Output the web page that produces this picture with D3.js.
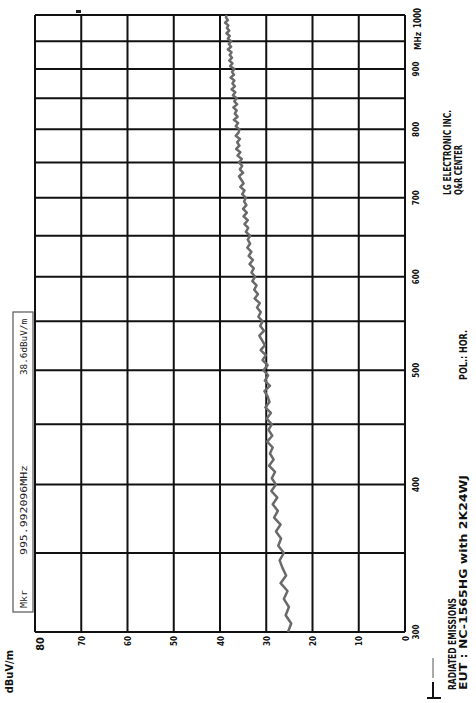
<!DOCTYPE html>
<html><head><meta charset="utf-8">
<script src="https://cdn.jsdelivr.net/npm/d3@7/dist/d3.min.js"></script>
<style>body{margin:0;background:#fff}svg{display:block}</style>
</head><body><svg id="c" width="476" height="703"></svg>
<script>
// ---- data ----
const freqGrid = [300,350,400,450,500,550,600,650,700,750,800,850,900,950,1000];
const freqLabels = [300,400,500,600,700,800,900];
const levelGrid = [0,10,20,30,40,50,60,70,80];
const levelLabels = [0,10,20,30,40,50,60,70];
const freqs = [
300,305,310,315,320,325,330,335,340,345,
350,355,360,365,370,375,380,385,390,395,
400,405,410,415,420,425,430,435,440,445,
450,455,460,465,470,475,480,485,490,495,
500,505,510,515,520,525,530,535,540,545,
550,555,560,565,570,575,580,585,590,595,
600,605,610,615,620,625,630,635,640,645,
650,655,660,665,670,675,680,685,690,695,
700,705,710,715,720,725,730,735,740,745,
750,755,760,765,770,775,780,785,790,795,
800,805,810,815,820,825,830,835,840,845,
850,855,860,865,870,875,880,885,890,895,
900,905,910,915,920,925,930,935,940,945,
950,955,960,965,970,975,980,985,990,995,1000];
const levels = [
25.3,24.6,25.8,25.1,26.2,25.4,26.9,25.7,26.5,27.1,
26.2,27.4,26.8,27.9,26.9,28.3,27.5,28.6,27.6,28.9,
27.9,28.8,28.1,29.4,28.4,29.2,28.6,29.8,28.7,29.5,
28.8,29.9,29.0,30.2,29.3,29.7,30.4,29.2,30.3,29.6,
30.6,29.7,30.8,30.1,31.2,30.3,30.9,31.5,30.5,31.3,
30.8,31.7,31.2,32.0,31.4,32.5,31.8,32.6,32.1,33.0,
32.4,33.2,32.7,33.6,32.9,33.8,33.2,34.1,33.5,34.0,
33.5,34.4,33.9,34.7,34.0,34.9,34.2,35.0,34.3,34.8,
34.4,35.2,34.7,35.6,34.9,35.4,35.9,35.0,35.7,35.2,
35.9,35.3,36.2,35.6,36.5,35.8,36.3,35.7,36.6,36.0,
35.8,36.6,36.1,37.0,36.2,36.8,36.4,37.1,36.3,36.9,
36.4,37.2,36.7,37.5,36.8,37.3,36.9,37.7,37.0,37.4,
36.9,37.8,37.3,38.0,37.4,37.9,37.5,38.3,37.6,38.1,
37.6,38.3,37.9,38.6,38.0,38.5,38.2,38.9,38.3,38.7,38.6];
const markerFreq = "995.992096MHz";
const markerLevel = "38.6dBuV/m";
const unitLabel = "dBuV/m";
const titleLines = ["LG ELECTRONIC INC.", "Q&R CENTER"];
const testLines = ["RADIATED EMISSIONS", "EUT : NC-1565HG with 2K24WJ"];
const polLabel = "POL.: HOR.";

// ---- drawing ----
const W = 617, H = 370;
const svg = d3.select("#c");
const font = "'DejaVu Sans Condensed','Liberation Sans Narrow',sans-serif";
const g = svg.append("g").attr("transform", "translate(35,632) rotate(-90)");
const x = d3.scaleLog().domain([300, 1000]).range([0, W]);
const y = d3.scaleLinear().domain([0, 80]).range([H, 0]);

// grid
g.selectAll("line.v").data(freqGrid).join("line").attr("class","v")
  .attr("x1", d => x(d)).attr("x2", d => x(d)).attr("y1", 0).attr("y2", H)
  .attr("stroke", "#111").attr("stroke-width", 2);
g.selectAll("line.h").data(levelGrid).join("line").attr("class","h")
  .attr("x1", 0).attr("x2", W).attr("y1", d => y(d)).attr("y2", d => y(d))
  .attr("stroke", "#111").attr("stroke-width", 2);

// trace
const pts = freqs.map((f, i) => [f, levels[i]]);
g.append("path").datum(pts)
  .attr("d", d3.line().x(d => x(d[0])).y(d => y(d[1])))
  .attr("fill", "none").attr("stroke", "#6a6a6a").attr("stroke-width", 2.5)
  .attr("stroke-linejoin", "round");

// level labels
g.selectAll("text.lv").data(levelLabels).join("text").attr("class","lv")
  .attr("x", -4).attr("y", d => y(d) + 1)
  .attr("text-anchor", "end").attr("dominant-baseline", "middle")
  .attr("font-family", font).attr("font-weight", "bold").attr("font-size", 8)
  .attr("fill", "#111").text(d => d);
g.append("text").attr("x", -5).attr("y", 6)
  .attr("text-anchor", "end").attr("dominant-baseline", "middle")
  .attr("font-family", font).attr("font-weight", "bold").attr("font-size", 11)
  .attr("fill", "#111").text("80");
g.append("text").attr("x", -18).attr("y", -22).attr("text-anchor", "end")
  .attr("font-family", font).attr("font-weight", "bold").attr("font-size", 11)
  .attr("fill", "#111").text(unitLabel);

// frequency labels
g.selectAll("text.fq").data(freqLabels).join("text").attr("class","fq")
  .attr("x", d => x(d)).attr("y", H + 14)
  .attr("text-anchor", "middle")
  .attr("font-family", font).attr("font-weight", "bold").attr("font-size", 8)
  .attr("fill", "#111").text(d => d);
g.append("text").attr("x", W - 35).attr("y", H + 16)
  .attr("textLength", 18).attr("lengthAdjust", "spacingAndGlyphs")
  .attr("font-family", font).attr("font-weight", "bold").attr("font-size", 9)
  .attr("fill", "#111").text("MHz");
g.append("text").attr("x", W - 13).attr("y", H + 16)
  .attr("textLength", 20).attr("lengthAdjust", "spacingAndGlyphs")
  .attr("font-family", font).attr("font-weight", "bold").attr("font-size", 10)
  .attr("fill", "#111").text("1000");

// marker box
g.append("rect").attr("x", 20).attr("y", -22).attr("width", 300).attr("height", 20)
  .attr("fill", "none").attr("stroke", "#555").attr("stroke-width", 1.2);
const mk = [["Mkr", 24, 18], [markerFreq, 77, 90], [markerLevel, 257, 56]];
g.selectAll("text.mk").data(mk).join("text").attr("class","mk")
  .attr("x", d => d[1]).attr("y", -8)
  .attr("textLength", d => d[2]).attr("lengthAdjust", "spacingAndGlyphs")
  .attr("font-family", "'DejaVu Sans Mono',monospace").attr("font-size", 9)
  .attr("fill", "#222").text(d => d[0]);
// marker indicator
g.append("rect").attr("x", W + 2).attr("y", 41).attr("width", 3).attr("height", 5).attr("fill", "#222");

// titles
const tt = [[titleLines[0], 437, 416, 85, 10], [titleLines[1], 437, 427, 50, 10],
            [testLines[0], -58, 421, 92, 11], [testLines[1], -58, 432, 215, 11],
            [polLabel, 252, 432, 50, 10]];
g.selectAll("text.tt").data(tt).join("text").attr("class","tt")
  .attr("x", d => d[1]).attr("y", d => d[2])
  .attr("textLength", d => d[3]).attr("lengthAdjust", "spacingAndGlyphs")
  .attr("font-family", font).attr("font-weight", "bold").attr("font-size", d => d[4])
  .attr("fill", "#111").text(d => d[0]);

// legend symbol
svg.append("line").attr("x1", 433).attr("x2", 433).attr("y1", 658).attr("y2", 678)
  .attr("stroke", "#555").attr("stroke-width", 1);
svg.append("line").attr("x1", 433).attr("x2", 433).attr("y1", 682).attr("y2", 697)
  .attr("stroke", "#111").attr("stroke-width", 2);
svg.append("line").attr("x1", 427).attr("x2", 441).attr("y1", 698).attr("y2", 698)
  .attr("stroke", "#111").attr("stroke-width", 2);
</script></body></html>
